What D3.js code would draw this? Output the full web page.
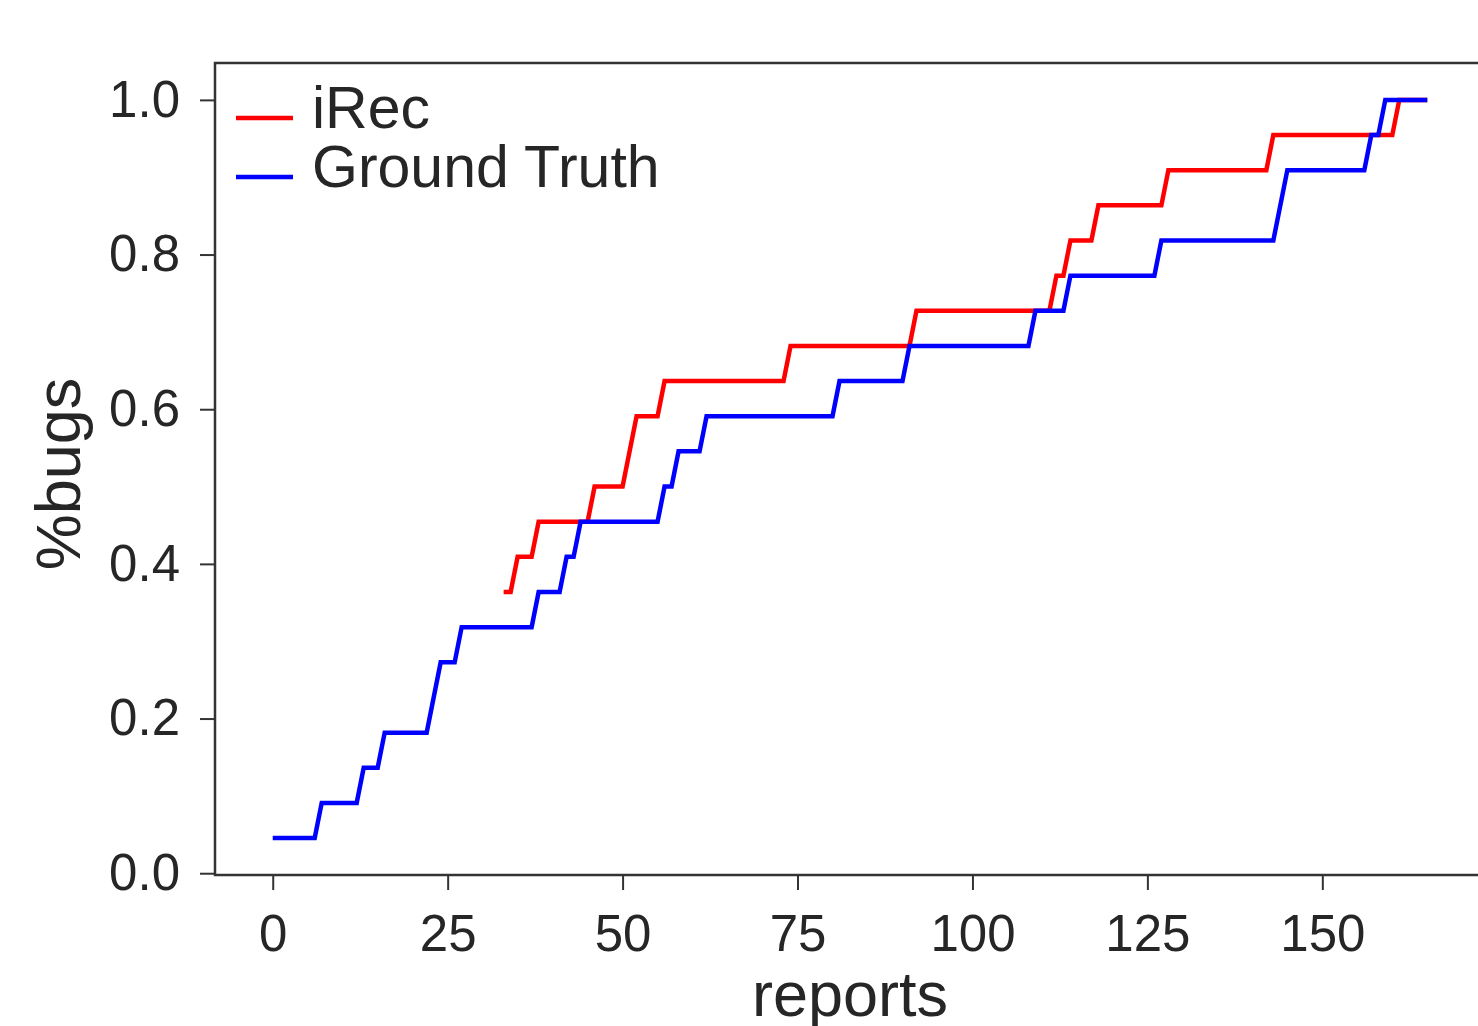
<!DOCTYPE html>
<html>
<head>
<meta charset="utf-8">
<script src="https://d3js.org/d3.v7.min.js"></script>
<style>
  body { margin: 0; background: #fff; }
  text { font-family: "Liberation Sans", Arial, sans-serif; fill: #262626; }
</style>
</head>
<body>
<svg id="chart" width="1478" height="1026"></svg>
<script>
// step points of each curve (reports, %bugs)
const irecX = [33, 34, 35, 37, 38, 45, 46, 50, 52, 55, 56, 73, 74, 91, 92, 111, 112, 113, 114, 117, 118, 127, 128, 142, 143, 160, 161, 165];
const irecY = [0.3636, 0.3636, 0.4091, 0.4091, 0.4545, 0.4545, 0.5, 0.5, 0.5909, 0.5909, 0.6364, 0.6364, 0.6818, 0.6818, 0.7273, 0.7273, 0.7727, 0.7727, 0.8182, 0.8182, 0.8636, 0.8636, 0.9091, 0.9091, 0.9545, 0.9545, 1.0, 1.0];

const truthX = [0, 6, 7, 12, 13, 15, 16, 22, 24, 26, 27, 37, 38, 41, 42, 43, 44, 55, 56, 57, 58, 61, 62, 80, 81, 90, 91, 108, 109, 113, 114, 126, 127, 143, 145, 156, 157, 158, 159, 165];
const truthY = [0.0455, 0.0455, 0.0909, 0.0909, 0.1364, 0.1364, 0.1818, 0.1818, 0.2727, 0.2727, 0.3182, 0.3182, 0.3636, 0.3636, 0.4091, 0.4091, 0.4545, 0.4545, 0.5, 0.5, 0.5455, 0.5455, 0.5909, 0.5909, 0.6364, 0.6364, 0.6818, 0.6818, 0.7273, 0.7273, 0.7727, 0.7727, 0.8182, 0.8182, 0.9091, 0.9091, 0.9545, 0.9545, 1.0, 1.0];

const seriesNames = ["iRec", "Ground Truth"];
const seriesColors = ["#ff0000", "#0000ff"];
const xTicks = [0, 25, 50, 75, 100, 125, 150];
const yTicks = [0.0, 0.2, 0.4, 0.6, 0.8, 1.0];

const svg = d3.select("#chart");

// axes box (right side runs past the picture edge)
const boxLeft = 215, boxRight = 1485, boxTop = 63, boxBottom = 875;

const x = d3.scaleLinear().domain([-8.25, 173.25]).range([boxLeft, boxRight]);
const y = d3.scaleLinear().domain([-0.0023, 1.0477]).range([boxBottom, boxTop]);

const series = [
  { name: seriesNames[0], color: seriesColors[0], pts: irecX.map((v, i) => [v, irecY[i]]) },
  { name: seriesNames[1], color: seriesColors[1], pts: truthX.map((v, i) => [v, truthY[i]]) }
];

const line = d3.line().x(d => x(d[0])).y(d => y(d[1]));

svg.selectAll(".series")
  .data(series)
  .enter()
  .append("path")
  .attr("class", "series")
  .attr("d", d => line(d.pts))
  .attr("fill", "none")
  .attr("stroke", d => d.color)
  .attr("stroke-width", 4.5)
  .attr("stroke-linejoin", "miter");

// x axis
const xAxis = svg.append("g")
  .attr("transform", "translate(0," + boxBottom + ")")
  .call(d3.axisBottom(x).tickValues(xTicks).tickSize(15).tickPadding(25).tickFormat(d3.format("d")));

// y axis
const yAxis = svg.append("g")
  .attr("transform", "translate(" + boxLeft + ",0)")
  .call(d3.axisLeft(y).tickValues(yTicks).tickSize(15).tickPadding(20).tickFormat(d3.format(".1f")));

[xAxis, yAxis].forEach(g => {
  g.select(".domain").remove();
  g.selectAll(".tick line").attr("stroke", "#333").attr("stroke-width", 2);
  g.selectAll(".tick text")
    .attr("font-size", 51)
    .attr("font-family", "Liberation Sans, Arial, sans-serif")
    .attr("fill", "#262626");
});

// frame
svg.append("rect")
  .attr("x", boxLeft)
  .attr("y", boxTop)
  .attr("width", boxRight - boxLeft)
  .attr("height", boxBottom - boxTop)
  .attr("fill", "none")
  .attr("stroke", "#333")
  .attr("stroke-width", 2.5);

// axis titles
svg.append("text")
  .attr("x", (boxLeft + boxRight) / 2)
  .attr("y", 1016)
  .attr("text-anchor", "middle")
  .attr("font-size", 63)
  .text("reports");

svg.append("text")
  .attr("transform", "translate(80,474) rotate(-90)")
  .attr("text-anchor", "middle")
  .attr("font-size", 63)
  .text("%bugs");

// legend
const legend = svg.selectAll(".legend")
  .data(series)
  .enter()
  .append("g")
  .attr("class", "legend")
  .attr("transform", (d, i) => "translate(0," + (118 + i * 59) + ")");

legend.append("line")
  .attr("x1", 236)
  .attr("x2", 293)
  .attr("stroke", d => d.color)
  .attr("stroke-width", 4.5);

legend.append("text")
  .attr("x", 312)
  .attr("y", 10)
  .attr("font-size", 59)
  .text(d => d.name);
</script>
</body>
</html>
